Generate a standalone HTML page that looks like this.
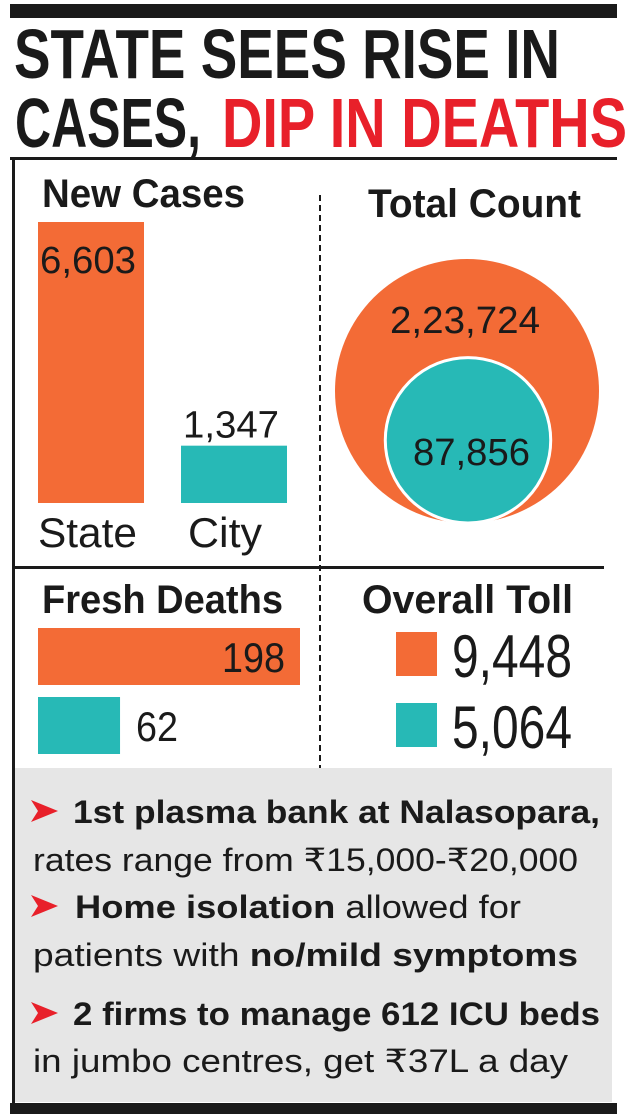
<!DOCTYPE html>
<html><head><meta charset="utf-8">
<style>
html,body{margin:0;padding:0;background:#fff;}
svg{display:block;}
text{font-family:"Liberation Sans Narrow","Liberation Sans",sans-serif;}
.b{font-weight:bold;}
</style></head>
<body>
<svg id="chart" width="635" height="1120" viewBox="0 0 635 1120" xmlns="http://www.w3.org/2000/svg">
  <rect x="0" y="0" width="635" height="1120" fill="#fff"/>
  <rect x="10" y="4" width="607" height="14" fill="#1a1a1a"/>
  <text class="b" x="14" y="78" font-size="70" fill="#1a1a1a" textLength="546" lengthAdjust="spacingAndGlyphs">STATE SEES RISE IN</text>
  <text class="b" x="15" y="147" font-size="70" fill="#1a1a1a" textLength="186" lengthAdjust="spacingAndGlyphs">CASES,</text>
  <text class="b" x="222" y="147" font-size="70" fill="#e8202a" textLength="405" lengthAdjust="spacingAndGlyphs">DIP IN DEATHS</text>
  <rect x="10" y="157" width="607" height="3" fill="#1a1a1a"/>
  <rect x="12" y="158" width="3" height="950" fill="#1a1a1a"/>
  <line x1="320" y1="195" x2="320" y2="768" stroke="#1a1a1a" stroke-width="2" stroke-dasharray="6,4"/>
  <rect x="14" y="566" width="590" height="3" fill="#1a1a1a"/>

  <text class="b" x="42" y="207" font-size="40" fill="#1a1a1a" textLength="203" lengthAdjust="spacingAndGlyphs">New Cases</text>
  <text class="b" x="368" y="217" font-size="40" fill="#1a1a1a" textLength="213" lengthAdjust="spacingAndGlyphs">Total Count</text>
  <text class="b" x="42" y="613" font-size="40" fill="#1a1a1a" textLength="241" lengthAdjust="spacingAndGlyphs">Fresh Deaths</text>
  <text class="b" x="362" y="613" font-size="40" fill="#1a1a1a" textLength="211" lengthAdjust="spacingAndGlyphs">Overall Toll</text>

  <g id="charts"></g>

  <rect x="15" y="768" width="597" height="334" fill="#e6e6e6"/>
  <g font-size="32" fill="#1a1a1a">
    <path d="M31 800 L58 811 L31 822 L38 811 Z" fill="#e8202a"/>
    <text class="b" x="73" y="823" textLength="527" lengthAdjust="spacingAndGlyphs">1st plasma bank at Nalasopara,</text>
    <text x="33" y="871" textLength="545" lengthAdjust="spacingAndGlyphs">rates range from ₹15,000-₹20,000</text>
    <path d="M31 895 L58 906 L31 917 L38 906 Z" fill="#e8202a"/>
    <text x="75" y="918" textLength="446" lengthAdjust="spacingAndGlyphs"><tspan class="b">Home isolation</tspan> allowed for</text>
    <text x="33" y="966" textLength="545" lengthAdjust="spacingAndGlyphs">patients with <tspan class="b">no/mild symptoms</tspan></text>
    <path d="M31 1002 L58 1013 L31 1024 L38 1013 Z" fill="#e8202a"/>
    <text class="b" x="73" y="1025" textLength="527" lengthAdjust="spacingAndGlyphs">2 firms to manage 612 ICU beds</text>
    <text x="33" y="1072" textLength="535" lengthAdjust="spacingAndGlyphs">in jumbo centres, get ₹37L a day</text>
  </g>
  <rect x="10" y="1103" width="607" height="11" fill="#1a1a1a"/>
</svg>
<script>
const caseCategories = ["State", "City"];
const newCases = [6603, 1347];
const newCasesLabels = ["6,603", "1,347"];
const totalCount = [223724, 87856];
const totalCountLabels = ["2,23,724", "87,856"];
const freshDeaths = [198, 62];
const freshDeathsLabels = ["198", "62"];
const overallToll = [9448, 5064];
const overallTollLabels = ["9,448", "5,064"];

const NS = "http://www.w3.org/2000/svg";
const g = document.getElementById("charts");
const colors = ["#f36b36", "#27b9b6"];
function mk(tag, attrs, txt) {
  const e = document.createElementNS(NS, tag);
  for (const k in attrs) e.setAttribute(k, attrs[k]);
  if (txt !== undefined) e.textContent = txt;
  g.appendChild(e);
  return e;
}
// New cases vertical bars
const baseY = 503, maxH = 281;
const yScale = v => maxH * v / Math.max(...newCases);
const barX = [38, 181], barW = 106;
newCases.forEach((v, i) => {
  const h = yScale(v);
  const r = mk("rect", {x: barX[i], y: baseY - h, width: barW, height: h, fill: colors[i]});
  
  
  const inside = h > 80;
  const t = mk("text", {x: barX[i] + (i === 0 ? 2 : 2), y: inside ? baseY - h + 51 : baseY - h - 8, "font-size": 38, fill: "#1a1a1a", textLength: 96, lengthAdjust: "spacingAndGlyphs"}, newCasesLabels[i]);
  
  
  const c = mk("text", {x: barX[i] + (i === 0 ? 0 : 7), y: 547, "font-size": 42, fill: "#1a1a1a", textLength: i === 0 ? 99 : 74, lengthAdjust: "spacingAndGlyphs"}, caseCategories[i]);
  
  
});
// Total count nested circles
const R = 132, cx = 467, cyBig = 391;
const rScale = v => R * Math.sqrt(v / Math.max(...totalCount));
totalCount.forEach((v, i) => {
  const r = rScale(v);
  const cy = cyBig + R - r;
  const cxx = cx + (i === 0 ? 0 : 1);
  const c = mk("circle", {cx: cxx, cy: cy, r: r, fill: colors[i], stroke: i ? "#fff" : "none", "stroke-width": i ? 3 : 0});
  
  
});
const tl0 = mk("text", {x: 390, y: 333, "font-size": 38, fill: "#1a1a1a", textLength: 150, lengthAdjust: "spacingAndGlyphs"}, totalCountLabels[0]);


const tl1 = mk("text", {x: 413, y: 465, "font-size": 38, fill: "#1a1a1a", textLength: 117, lengthAdjust: "spacingAndGlyphs"}, totalCountLabels[1]);


// Fresh deaths horizontal bars
const maxW = 262;
const xScale = v => maxW * v / Math.max(...freshDeaths);
const barY = [628, 697], barH = 57;
freshDeaths.forEach((v, i) => {
  const w = xScale(v);
  const r = mk("rect", {x: 38, y: barY[i], width: w, height: barH, fill: colors[i]});
  
  
  const inside = w > 120;
  const tw = freshDeathsLabels[i].length * 21;
  const t = mk("text", {x: inside ? 38 + w - 15 - tw : 38 + w + 16, y: barY[i] + 44, "font-size": 42, fill: "#1a1a1a", textLength: tw, lengthAdjust: "spacingAndGlyphs"}, freshDeathsLabels[i]);
  
  
});
// Overall toll legend-style
const tollY = [632, 703];
overallToll.forEach((v, i) => {
  const s = mk("rect", {x: 396, y: tollY[i], width: 41, height: 44, fill: colors[i]});
  
  
  const t = mk("text", {x: 452, y: tollY[i] + 45, "font-size": 60, fill: "#1a1a1a", textLength: 120, lengthAdjust: "spacingAndGlyphs"}, overallTollLabels[i]);
  
  
});
</script>
</body></html>
